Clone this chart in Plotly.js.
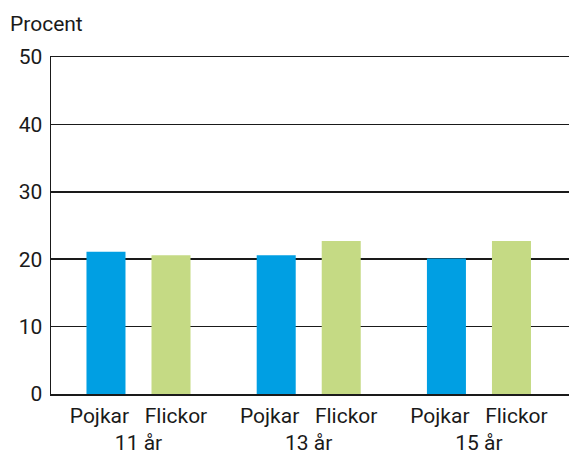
<!DOCTYPE html>
<html>
<head>
<meta charset="utf-8">
<script src="https://cdn.plot.ly/plotly-3.0.1.min.js"></script>
<style>html,body{margin:0;padding:0;background:#fff;}#chart{width:569px;height:454px;}</style>
</head>
<body>
<div id="chart"></div>
<script>
const ageGroups = ["11 år", "13 år", "15 år"];
const sexLabels = ["Pojkar", "Flickor"];
const pojkar = [21.1, 20.6, 20.1];
const flickor = [20.6, 22.7, 22.7];
const yTicks = [0, 10, 20, 30, 40, 50];

const FONT = "Roboto, 'DejaVu Sans', sans-serif";
const ink = "#1a1a1a";
const gap = "\u00A0\u00A0\u00A0";
const FS = 21;

const traces = [
  {type: "bar", name: sexLabels[0], x: ageGroups, y: pojkar, marker: {color: "#009fe3"}, hoverinfo: "skip"},
  {type: "bar", name: sexLabels[1], x: ageGroups, y: flickor, marker: {color: "#c5da84"}, hoverinfo: "skip"}
];

const layout = {
  width: 569, height: 454,
  margin: {l: 51, r: 0, t: 57, b: 60},
  paper_bgcolor: "#fff", plot_bgcolor: "#fff",
  showlegend: false,
  barmode: "group",
  bargap: 0.236,
  bargroupgap: 0.4,
  font: {family: FONT, size: FS, color: ink},
  title: {
    text: "Procent",
    font: {family: FONT, size: FS, color: ink},
    xref: "container", x: 10 / 569, xanchor: "left",
    yref: "container", y: 1 - 16 / 454, yanchor: "top"
  },
  xaxis: {
    type: "category",
    range: [-0.514, 2.529],
    tickmode: "array",
    tickvals: ageGroups,
    ticktext: ageGroups.map(g => sexLabels.join(gap) + "<br>" + g),
    showgrid: false,
    showline: true, linecolor: ink, linewidth: 1.5,
    mirror: true,
    ticks: "",
    ticklabelstandoff: 2,
    tickfont: {family: FONT, size: FS, color: ink},
    fixedrange: true
  },
  yaxis: {
    range: [0, 50],
    tickmode: "array",
    tickvals: yTicks,
    showgrid: true, gridcolor: ink, gridwidth: 1.5,
    zeroline: false,
    showline: true, linecolor: ink, linewidth: 1.5,
    ticks: "",
    ticklabelstandoff: 3,
    tickfont: {family: FONT, size: FS, color: ink},
    fixedrange: true
  }
};

Plotly.newPlot("chart", traces, layout, {staticPlot: true, displayModeBar: false});
</script>
</body>
</html>
